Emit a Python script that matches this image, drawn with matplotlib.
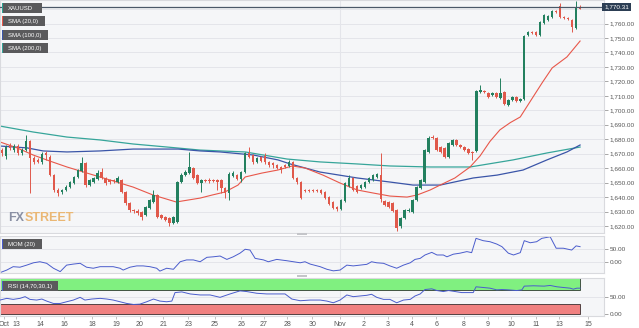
import numpy as np
import matplotlib.pyplot as plt
from matplotlib.patches import Rectangle

plt.rcParams["font.family"] = ["Liberation Sans", "DejaVu Sans"]

# XAU/USD 4h candles, Oct 12 - Nov 15
opens = [1672.5, 1668.4, 1676.0, 1672.5, 1675.3, 1670.5, 1672.5, 1678.8, 1667.0, 1665.7,
         1664.3, 1670.5, 1667.7, 1655.2, 1644.9, 1643.5, 1644.9, 1646.9, 1649.7, 1653.9,
         1658.0, 1663.6, 1648.3, 1650.4, 1652.5, 1657.3, 1653.2, 1651.8, 1651.8, 1650.4,
         1651.8, 1643.5, 1635.9, 1631.0, 1630.3, 1629.7, 1627.6, 1632.4, 1636.6, 1641.4,
         1627.6, 1626.2, 1625.5, 1622.1, 1622.8, 1650.4, 1655.2, 1656.6, 1660.1, 1655.2,
         1649.7, 1651.8, 1651.8, 1651.8, 1651.8, 1651.8, 1646.2, 1642.8, 1654.6, 1655.2,
         1652.5, 1657.3, 1670.5, 1669.1, 1664.3, 1667.7, 1668.4, 1664.3, 1663.6, 1662.2,
         1660.8, 1662.2, 1661.5, 1664.3, 1653.2, 1650.4, 1644.9, 1644.9, 1644.9, 1644.9,
         1644.9, 1643.5, 1640.0, 1636.6, 1633.1, 1631.7, 1637.3, 1647.6, 1653.2, 1647.6,
         1646.2, 1646.9, 1650.4, 1651.8, 1653.9, 1655.2, 1637.3, 1636.6, 1635.9, 1631.0,
         1620.0, 1625.5, 1630.3, 1629.7, 1637.9, 1646.2, 1650.4, 1671.2, 1681.5, 1680.8,
         1674.6, 1674.0, 1667.7, 1676.0, 1679.5, 1676.0, 1674.6, 1673.2, 1671.2, 1671.9,
         1712.7, 1713.3, 1712.0, 1710.6, 1712.0, 1708.5, 1712.7, 1703.7, 1707.1, 1709.2,
         1706.4, 1707.8, 1752.1, 1754.1, 1754.1, 1752.1, 1760.4, 1762.4, 1764.5, 1768.7,
         1772.1, 1764.5, 1763.8, 1762.4, 1756.9, 1771.4]
highs = [1674.0, 1676.0, 1677.4, 1676.7, 1676.7, 1674.0, 1682.9, 1679.5, 1668.4, 1667.0,
         1671.2, 1671.9, 1669.1, 1655.9, 1646.2, 1645.6, 1648.3, 1651.1, 1654.6, 1659.4,
         1667.7, 1664.3, 1652.5, 1653.9, 1658.7, 1660.1, 1653.9, 1652.5, 1652.5, 1654.6,
         1652.5, 1644.2, 1636.6, 1631.7, 1631.7, 1630.3, 1633.8, 1638.6, 1644.9, 1642.1,
         1628.3, 1626.9, 1626.2, 1626.9, 1651.1, 1656.6, 1658.7, 1671.2, 1660.8, 1655.9,
         1652.5, 1652.5, 1653.2, 1652.5, 1652.5, 1652.5, 1646.9, 1657.3, 1658.0, 1655.9,
         1658.0, 1671.2, 1674.6, 1669.8, 1667.7, 1668.4, 1670.5, 1664.9, 1664.3, 1662.9,
         1661.5, 1662.9, 1665.7, 1664.9, 1653.9, 1651.1, 1645.6, 1645.6, 1645.6, 1645.6,
         1645.6, 1644.2, 1640.7, 1637.3, 1633.8, 1638.6, 1650.4, 1655.2, 1653.9, 1648.3,
         1649.0, 1651.1, 1653.9, 1655.9, 1656.6, 1670.5, 1637.9, 1637.3, 1636.6, 1631.7,
         1626.2, 1631.7, 1632.4, 1638.6, 1647.6, 1652.5, 1673.2, 1682.2, 1682.9, 1681.5,
         1675.3, 1674.6, 1678.1, 1680.1, 1680.1, 1676.7, 1675.3, 1674.0, 1671.9, 1714.0,
         1717.5, 1714.0, 1712.7, 1712.7, 1712.7, 1722.3, 1713.3, 1707.8, 1709.9, 1709.9,
         1708.5, 1752.1, 1754.8, 1754.8, 1754.8, 1761.8, 1766.6, 1765.9, 1769.4, 1769.4,
         1774.2, 1765.2, 1764.5, 1763.1, 1775.6, 1772.8]
lows = [1668.4, 1666.3, 1672.5, 1671.2, 1669.1, 1669.1, 1671.9, 1642.8, 1662.9, 1663.6,
        1662.9, 1665.7, 1654.6, 1643.5, 1640.7, 1642.1, 1644.2, 1646.2, 1649.0, 1653.2,
        1657.3, 1646.9, 1647.6, 1649.7, 1651.8, 1652.5, 1648.3, 1649.0, 1649.7, 1649.7,
        1642.8, 1634.5, 1629.7, 1629.0, 1627.6, 1624.1, 1626.9, 1631.7, 1635.9, 1625.5,
        1624.8, 1623.4, 1620.0, 1621.4, 1622.1, 1649.7, 1654.6, 1655.9, 1652.5, 1649.0,
        1643.5, 1650.4, 1649.7, 1650.4, 1644.9, 1642.8, 1639.3, 1637.9, 1653.9, 1651.8,
        1650.4, 1656.6, 1667.0, 1662.9, 1663.6, 1664.3, 1662.9, 1660.8, 1660.1, 1659.4,
        1656.6, 1660.1, 1660.8, 1652.5, 1649.0, 1638.6, 1643.5, 1643.5, 1643.5, 1643.5,
        1642.1, 1638.6, 1634.5, 1631.7, 1630.3, 1631.0, 1636.6, 1646.9, 1644.2, 1642.8,
        1645.6, 1646.2, 1649.7, 1651.1, 1653.2, 1636.6, 1633.8, 1632.4, 1629.7, 1616.5,
        1618.6, 1624.8, 1629.7, 1629.0, 1637.3, 1645.6, 1649.7, 1670.5, 1680.1, 1671.9,
        1670.5, 1667.0, 1667.0, 1675.3, 1675.3, 1674.0, 1671.9, 1669.8, 1665.7, 1671.2,
        1712.0, 1712.0, 1708.5, 1709.9, 1708.5, 1707.8, 1703.7, 1703.0, 1706.4, 1705.7,
        1705.7, 1707.1, 1751.4, 1752.8, 1751.4, 1751.4, 1759.7, 1761.8, 1763.8, 1767.3,
        1763.8, 1763.1, 1762.4, 1754.1, 1756.2, 1769.9]
closes = [1670.5, 1674.6, 1674.0, 1675.3, 1670.5, 1672.5, 1678.8, 1667.0, 1664.3, 1664.3,
          1669.8, 1669.1, 1655.2, 1644.9, 1642.8, 1644.9, 1646.9, 1650.4, 1653.9, 1658.7,
          1663.6, 1648.3, 1651.8, 1653.2, 1656.6, 1653.2, 1649.7, 1650.4, 1651.1, 1653.2,
          1643.5, 1635.9, 1631.0, 1630.3, 1629.0, 1626.2, 1633.1, 1637.9, 1641.4, 1626.2,
          1625.5, 1624.1, 1622.1, 1626.2, 1650.4, 1655.2, 1657.3, 1660.8, 1653.2, 1649.7,
          1651.8, 1651.1, 1651.1, 1651.1, 1650.4, 1646.2, 1642.8, 1655.9, 1656.6, 1652.5,
          1657.3, 1670.5, 1667.7, 1664.3, 1667.0, 1664.9, 1664.3, 1662.2, 1662.2, 1660.1,
          1658.7, 1660.8, 1664.3, 1653.2, 1650.4, 1639.3, 1644.2, 1644.2, 1644.2, 1644.2,
          1642.8, 1639.3, 1635.2, 1632.4, 1631.7, 1637.9, 1649.7, 1653.2, 1644.9, 1643.5,
          1648.3, 1650.4, 1653.2, 1655.2, 1655.9, 1638.6, 1634.5, 1633.1, 1630.3, 1618.6,
          1625.5, 1631.0, 1631.0, 1637.9, 1646.9, 1651.8, 1672.5, 1680.8, 1680.8, 1672.5,
          1671.2, 1667.7, 1677.4, 1679.5, 1676.0, 1674.6, 1672.5, 1670.5, 1670.5, 1713.3,
          1714.0, 1712.7, 1709.2, 1712.0, 1709.2, 1712.0, 1704.4, 1707.1, 1709.2, 1706.4,
          1707.8, 1751.4, 1754.1, 1753.4, 1752.1, 1761.1, 1765.9, 1765.2, 1768.7, 1768.0,
          1764.5, 1763.8, 1763.1, 1757.6, 1771.4, 1770.31]

# moving averages (candle index, price)
sma20_t = [-0.5, 3.8, 7.8, 12.0, 16.3, 21.3, 27.1, 32.9, 37.9, 43.7, 49.7, 52.7, 55.9, 59.2,
           61.0, 65.2, 69.2, 72.8, 76.0, 80.5, 84.8, 89.1, 93.1, 97.3, 101.6, 104.1, 107.4,
           109.9, 113.6, 117.4, 119.9, 122.4, 124.9, 127.5, 130.0, 133.2, 135.6, 138.0,
           141.7, 145.0]
sma20_v = [1678.1, 1674.0, 1669.1, 1664.9, 1660.8, 1656.6, 1651.8, 1646.9, 1641.4, 1636.6,
           1639.3, 1641.4, 1643.5, 1648.3, 1653.9, 1656.6, 1658.7, 1661.5, 1660.1, 1655.2,
           1649.7, 1644.9, 1642.8, 1640.7, 1640.0, 1641.4, 1644.9, 1648.3, 1653.2, 1660.8,
           1668.4, 1678.5, 1686.5, 1691.5, 1695.4, 1709.2, 1719.5, 1729.3, 1736.9, 1747.9]
sma100_t = [-0.5, 6.3, 10.3, 16.3, 24.6, 32.9, 44.2, 49.7, 54.7, 63.0, 69.2, 72.3, 79.8,
            89.1, 97.3, 103.1, 109.9, 118.2, 124.2, 130.7, 136.7, 141.7, 145.0]
sma100_v = [1675.3, 1674.0, 1671.9, 1671.2, 1671.9, 1673.2, 1673.2, 1671.9, 1671.2, 1669.1,
            1665.7, 1662.9, 1657.3, 1653.2, 1650.4, 1648.3, 1648.3, 1653.2, 1655.2, 1658.7,
            1665.7, 1671.2, 1676.0]
sma200_t = [-0.5, 7.8, 16.3, 24.6, 32.9, 41.4, 49.7, 54.7, 61.0, 71.5, 79.8, 89.1, 97.3,
            107.4, 117.4, 128.2, 136.7, 145.0]
sma200_v = [1689.1, 1685.0, 1681.5, 1679.5, 1676.7, 1674.6, 1672.5, 1671.9, 1671.2, 1666.3,
            1664.3, 1662.9, 1661.5, 1660.8, 1660.8, 1665.7, 1670.5, 1674.6]

mom_t = [-0.5, 1.2, 2.8, 4.5, 6.2, 7.9, 9.5, 11.2, 12.9, 14.6, 16.2, 17.9, 19.6, 21.2, 22.9,
         24.6, 26.3, 27.9, 29.6, 30.4, 32.1, 33.8, 35.4, 37.1, 38.8, 39.6, 41.3, 43.0, 44.7,
         46.3, 48.0, 49.7, 51.4, 53.0, 54.7, 56.4, 58.0, 59.7, 61.0, 62.2, 63.5, 65.6, 66.8,
         68.9, 71.4, 73.1, 74.8, 76.0, 77.3, 79.8, 81.5, 83.1, 84.8, 86.5, 88.1, 89.8, 91.5,
         92.7, 94.0, 95.7, 97.3, 99.0, 100.7, 102.4, 103.6, 104.9, 106.1, 107.8, 109.1, 110.7,
         111.6, 113.2, 114.9, 116.6, 117.8, 118.9, 120.7, 122.4, 124.1, 125.4, 127.0, 128.3,
         130.0, 131.0, 132.5, 134.1, 135.4, 137.5, 139.0, 140.8, 142.9, 144.0, 145.0]
mom_v = [-41, -31, -18, -20, -12, -3, 1, -5, -24, -37, -12, -8, -5, -20, -24,
         -18, -18, -18, -24, -31, -20, -15, -15, -18, -24, -35, -24, -28, 1,
         8, 8, 1, 18, 20, 23, 10, 20, 34, 49, 46, 14, 8, 1,
         10, 5, 1, -3, 1, -8, -18, -28, -34, -31, -12, -15, -12, -9,
         1, -3, -5, -15, -24, -12, -3, 10, 14, 27, 37, 27, 27,
         20, 30, 34, 40, 36, 91, 82, 78, 69, 59, 34, 27,
         36, 82, 74, 78, 91, 97, 53, 53, 46, 62, 59]

rsi_t = [-0.5, 1.2, 2.8, 4.5, 5.8, 7.0, 8.7, 10.0, 11.2, 12.9, 14.6, 16.2, 17.9, 19.6, 20.8,
         22.5, 24.6, 26.3, 27.9, 29.6, 31.3, 33.0, 34.6, 36.3, 38.0, 39.6, 41.3, 42.6, 43.4,
         45.1, 47.2, 49.7, 52.2, 54.7, 57.2, 59.7, 61.4, 63.9, 66.4, 68.9, 71.0, 72.7, 74.8,
         77.3, 79.8, 81.5, 83.1, 84.8, 86.5, 88.1, 89.8, 91.5, 92.7, 94.0, 95.7, 97.3, 99.0,
         100.7, 102.4, 103.6, 104.9, 106.1, 107.8, 109.1, 110.7, 112.0, 113.7, 115.3, 117.0,
         118.2, 118.9, 120.7, 122.4, 124.1, 125.4, 127.0, 129.1, 130.4, 131.0, 133.3, 136.0,
         137.5, 139.2, 140.8, 142.5, 143.3, 144.2, 145.0]
rsi_v = [41, 46, 43, 46, 51, 43, 41, 44, 38, 31, 31, 36, 41, 49, 41,
         44, 46, 44, 41, 36, 31, 28, 29, 36, 44, 38, 36, 38, 63,
         65, 59, 56, 56, 49, 59, 68, 66, 61, 59, 59, 59, 44, 39,
         41, 41, 38, 33, 41, 56, 51, 53, 55, 58, 49, 43, 43, 33,
         41, 43, 53, 59, 72, 74, 69, 66, 69, 66, 63, 63,
         63, 80, 78, 76, 71, 72, 71, 69, 71, 82, 83, 82,
         84, 80, 78, 76, 73, 76, 76]

date_pos = [0.5, 3.5, 9.5, 15.6, 22.6, 28.6, 34.6, 40.4, 46.7, 53.4, 60.0, 65.7, 71.5, 77.8,
            84.8, 90.8, 96.8, 102.9, 108.9, 115.9, 121.9, 127.7, 134.0, 139.7, 147.0]
date_lbl = ["Oct", "13", "14", "16", "18", "19", "20", "21", "23", "25", "26", "27", "28", "30",
            "Nov", "2", "3", "4", "6", "8", "9", "10", "11", "13", "15"]
nov_start = 84.8

GREEN, RED = "#23805f", "#e0594b"
C_SMA20, C_SMA100, C_SMA200 = "#e8574a", "#3a55a8", "#36a59a"
BG, GRID, EDGE = "#f5f6f8", "#e4e5ea", "#d9dade"
IND = "#4a5ccc"

W, H = 639, 328
fig = plt.figure(figsize=(W / 100, H / 100), dpi=100)


def px_box(x0, y0, x1, y1):
    return [x0 / W, 1 - y1 / H, (x1 - x0) / W, (y1 - y0) / H]


ax = fig.add_axes(px_box(0, 0, 604, 233))
am = fig.add_axes(px_box(0, 236, 604, 273), sharex=ax)
ar = fig.add_axes(px_box(0, 278, 604, 316), sharex=ax)

for a in (ax, am, ar):
    a.set_facecolor(BG)
    for s in a.spines.values():
        s.set_color(EDGE)
        s.set_linewidth(0.8)
    a.yaxis.tick_right()
    a.tick_params(axis="y", length=3, width=0.6, color="#999999", pad=1,
                  labelsize=4.6, labelcolor="#555555")
    a.tick_params(axis="x", length=0, labelbottom=False)
    a.axvline(nov_start, color=GRID, lw=0.8, zorder=0)

# --- price panel
o, h, l, c = map(np.array, (opens, highs, lows, closes))
x = np.arange(len(c))
up = c >= o
col = np.where(up, GREEN, RED)
ax.vlines(x, l, h, colors=col, lw=0.7, zorder=3)
ax.bar(x, np.maximum(np.abs(c - o), 0.5), bottom=np.minimum(o, c), width=0.62,
       color=col, lw=0, zorder=4)

ax.plot(sma200_t, sma200_v, color=C_SMA200, lw=0.9, zorder=2)
ax.plot(sma100_t, sma100_v, color=C_SMA100, lw=0.9, zorder=2)
ax.plot(sma20_t, sma20_v, color=C_SMA20, lw=0.8, zorder=2)

ax.set_xlim(-0.5, 151)
ax.set_ylim(1615.15, 1776.28)
ticks = np.arange(1620, 1761, 10)
ax.set_yticks(ticks, [f"{t:,.2f}" for t in ticks])
for t in np.arange(1620, 1771, 10):
    ax.axhline(t, color=GRID, lw=0.7, zorder=0)

last = closes[-1]
ax.axhline(1771.4, color="#4b5868", lw=0.9, zorder=5)
ax.text(1.0, 1771.4, f"{last:,.2f}", transform=ax.get_yaxis_transform(), ha="left",
        va="center", fontsize=4.6, color="white", zorder=6, clip_on=False,
        bbox=dict(boxstyle="square,pad=0.3", fc="#2c3e54", ec="none"))

# --- momentum
am.plot(mom_t, mom_v, color=IND, lw=0.7)
am.set_ylim(-42.3, 100)
am.set_yticks([0, 50], ["0.00", "50.00"])
for t in (0, 50):
    am.axhline(t, color=GRID, lw=0.7, zorder=0)

# --- RSI
ar.set_ylim(-5.9, 105.9)
ar.add_patch(Rectangle((-0.5, 70), 145.5, 36, fc="#80f080", ec="#2e3b2e", lw=0.6, zorder=1))
ar.add_patch(Rectangle((-0.5, 0), 145.5, 30, fc="#f08080", ec="#3b2e2e", lw=0.6, zorder=1))
ar.plot(rsi_t, rsi_v, color=IND, lw=0.7, zorder=3)
ar.set_yticks([0, 50], ["0.00", "50.00"])
ar.axhline(50, color=GRID, lw=0.7, zorder=0)
ar.set_xticks(date_pos, date_lbl)
ar.tick_params(axis="x", labelbottom=True, length=2, width=0.5, color="#aaaaaa",
               labelsize=5, labelcolor="#555555", pad=1.5)

# --- overlay: legend tags, dividers, watermark
ov = fig.add_axes([0, 0, 1, 1])
ov.set_xlim(0, W)
ov.set_ylim(H, 0)
ov.axis("off")

tags = [(3, 42, "XAUUSD", "#2aa594"), (16, 45, "SMA (20,0)", C_SMA20),
        (30, 48, "SMA (100,0)", C_SMA100), (43, 48, "SMA (200,0)", C_SMA200),
        (239, 42, "MOM (20)", IND), (281, 58, "RSI (14,70,30,1)", IND)]
for top, right, label, stripe in tags:
    ov.add_patch(Rectangle((2, top), right - 2, 10, fc="#5a5a5c", ec="none"))
    ov.add_patch(Rectangle((2, top), 1.4, 10, fc=stripe, ec="none"))
    ov.text(8, top + 5.2, label, color="white", fontsize=4.3, va="center", ha="left")

for yy in (232.5, 274.5):
    ov.add_patch(Rectangle((297, yy), 10, 2.5, fc="#c4c5c9", ec="none"))

logo_font = dict(fontsize=9, fontweight="bold", fontstretch="condensed",
                 family=["Liberation Sans Narrow", "Liberation Sans", "DejaVu Sans"])
fx = ov.text(8, 221, "FX", color="#8a90a4", va="baseline", ha="left", **logo_font)
ov.annotate("STREET", xy=(1, 0), xycoords=fx, xytext=(0.3, 0), textcoords="offset points",
            color="#eab774", va="bottom", ha="left", **logo_font)

fig.savefig("out.png", dpi=100)
